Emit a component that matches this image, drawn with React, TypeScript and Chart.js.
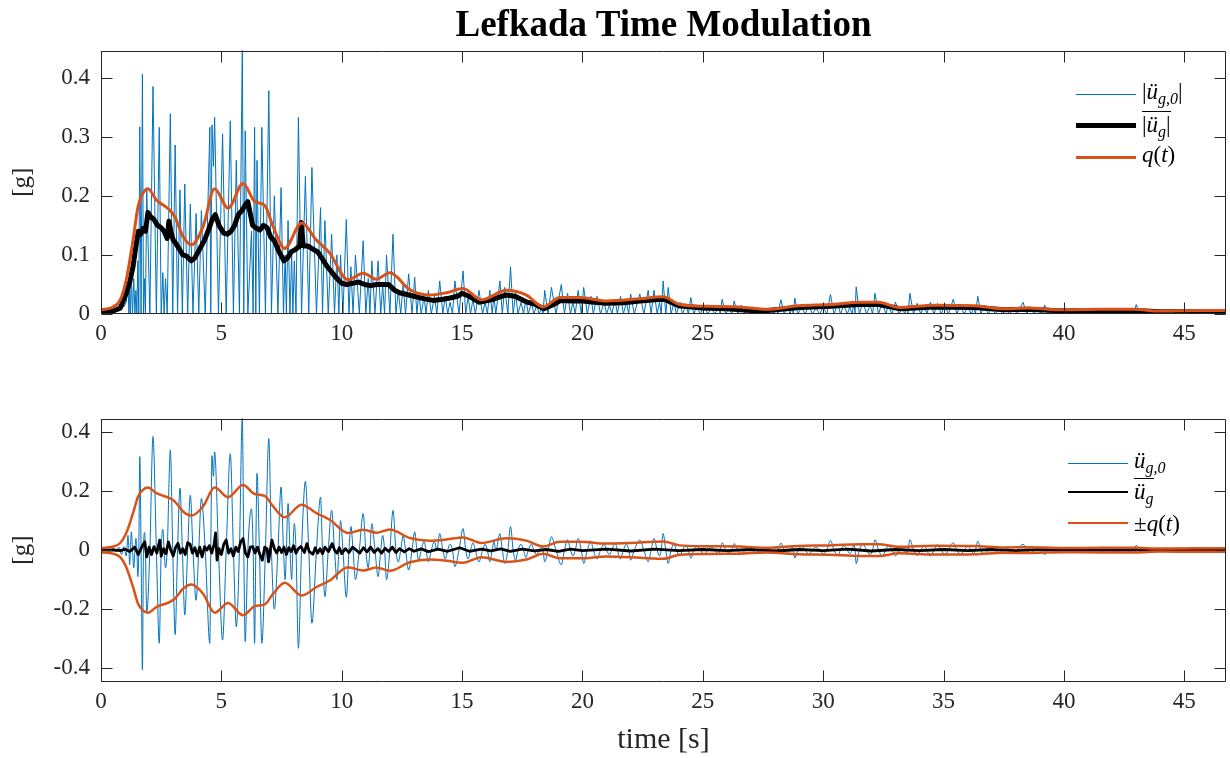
import { useEffect, useRef } from "react";
import { Chart, registerables } from "chart.js";

Chart.register(...registerables);

// ---------------- data ----------------
const X_MAX = 46.73;
const Y_LIM = 0.446;
const xTicks = [0, 5, 10, 15, 20, 25, 30, 35, 40, 45];
const yTicksTop = [0, 0.1, 0.2, 0.3, 0.4];
const yTicksBottom = [-0.4, -0.2, 0, 0.2, 0.4];

// recorded ground acceleration (signed), [time s, value g]
const recorded: [number, number][] = [
  [0, 0], [0.2, 0.003], [0.35, -0.004], [0.5, 0.006], [0.62, -0.006], [0.75, 0.01], [0.85, -0.015], [0.95, 0.012],
  [1.05, -0.02], [1.12, 0.05], [1.16, 0], [1.19, -0.05], [1.22, 0], [1.26, 0.062], [1.31, 0], [1.36, -0.06],
  [1.41, 0], [1.45, 0.04], [1.49, 0], [1.53, -0.09], [1.57, 0], [1.61, 0.317], [1.665, 0], [1.72, -0.406],
  [1.765, 0], [1.81, 0.06], [1.845, 0], [1.9, -0.21], [2.03, 0], [2.16, 0.385], [2.3, 0], [2.42, -0.316],
  [2.5, 0], [2.57, 0.07], [2.62, 0], [2.68, -0.06], [2.75, 0], [2.88, 0.339], [2.98, 0], [3.08, -0.286],
  [3.18, 0], [3.28, 0.21], [3.38, 0], [3.48, -0.22], [3.6, 0], [3.71, 0.186], [3.82, 0], [3.95, -0.17],
  [4.06, 0], [4.17, 0.175], [4.33, 0], [4.52, -0.316], [4.56, 0], [4.61, 0.32], [4.67, 0.25], [4.72, 0.333],
  [4.88, 0], [5.05, -0.305], [5.2, 0], [5.37, 0.327], [5.5, 0], [5.62, -0.26], [5.75, 0], [5.87, 0.45],
  [5.93, 0], [5.99, -0.31], [6.1, 0], [6.25, 0.14], [6.32, 0], [6.38, -0.316], [6.43, 0], [6.48, 0.26],
  [6.58, 0], [6.68, -0.316], [6.83, 0], [6.97, 0.378], [7.08, 0], [7.2, -0.2], [7.35, 0], [7.48, 0.214],
  [7.58, 0], [7.65, -0.1], [7.7, 0], [7.77, 0.158], [7.85, 0], [7.92, -0.1], [7.97, 0], [8.03, 0.09],
  [8.1, 0], [8.2, -0.333], [8.33, 0], [8.49, 0.233], [8.63, 0], [8.76, -0.248], [8.95, 0], [9.12, 0.18],
  [9.2, 0], [9.3, -0.158], [9.44, 0], [9.58, 0.135], [9.7, 0], [9.8, -0.1], [9.88, 0], [9.95, 0.1],
  [10.05, 0], [10.19, -0.16], [10.3, 0], [10.38, 0.08], [10.47, 0], [10.57, -0.1], [10.73, 0], [10.89, 0.124],
  [11.0, 0], [11.1, -0.06], [11.17, 0], [11.25, 0.09], [11.38, 0], [11.51, -0.09], [11.62, 0], [11.7, 0.05],
  [11.78, 0], [11.86, -0.1], [12.0, 0], [12.13, 0.135], [12.25, 0], [12.35, -0.04], [12.45, 0], [12.55, 0.05],
  [12.65, 0], [12.78, -0.068], [12.92, 0], [13.03, 0.062], [13.12, 0], [13.2, -0.035], [13.3, 0], [13.42, 0.03],
  [13.5, 0], [13.6, -0.04], [13.72, 0], [13.85, 0.03], [13.95, 0], [14.07, 0.056], [14.2, 0], [14.3, -0.03],
  [14.4, 0], [14.5, 0.02], [14.6, 0], [14.7, -0.056], [14.87, 0], [15.04, 0.073], [15.15, 0], [15.25, -0.03],
  [15.35, 0], [15.45, 0.025], [15.55, 0], [15.7, -0.04], [15.85, 0], [15.95, 0.02], [16.05, 0], [16.15, -0.04],
  [16.25, 0], [16.32, 0.03], [16.4, 0], [16.57, 0.056], [16.67, 0], [16.77, -0.045], [16.9, 0], [17.01, 0.08],
  [17.12, 0], [17.22, -0.035], [17.32, 0], [17.45, 0.02], [17.55, 0], [17.65, -0.025], [17.75, 0], [17.88, 0.02],
  [17.98, 0], [18.1, -0.015], [18.2, 0], [18.3, 0.01], [18.36, 0], [18.43, -0.04], [18.57, 0], [18.71, 0.045],
  [18.9, 0], [19.12, -0.05], [19.25, 0], [19.38, 0.035], [19.5, 0], [19.6, -0.02], [19.7, 0], [19.82, 0.04],
  [19.95, 0], [20.05, -0.045], [20.2, 0], [20.35, 0.03], [20.45, 0], [20.6, -0.03], [20.75, 0], [20.9, 0.02],
  [21.0, 0], [21.12, -0.015], [21.22, 0], [21.35, 0.025], [21.45, 0], [21.58, -0.03], [21.7, 0], [21.82, 0.02],
  [21.92, 0], [22.0, -0.034], [22.15, 0], [22.38, 0.034], [22.55, 0], [22.73, -0.04], [22.85, 0], [22.97, 0.04],
  [23.1, 0], [23.2, -0.02], [23.27, 0], [23.35, 0.056], [23.46, 0], [23.56, -0.045], [23.68, 0], [23.8, 0.02],
  [23.9, 0], [24.05, -0.02], [24.15, 0], [24.3, 0.015], [24.4, 0], [24.5, -0.028], [24.62, 0], [24.75, 0.012],
  [24.9, 0], [25.05, -0.015], [25.2, 0], [25.35, 0.01], [25.5, 0], [25.65, -0.012], [25.72, 0], [25.8, 0.025],
  [25.95, 0], [26.1, -0.01], [26.2, 0], [26.3, 0.022], [26.45, 0], [26.6, -0.015], [26.75, 0], [26.9, 0.012],
  [27.05, 0], [27.2, -0.01], [27.35, 0], [27.5, 0.008], [27.65, 0], [27.8, -0.01], [27.95, 0], [28.05, 0.012],
  [28.12, 0], [28.24, 0.024], [28.38, 0], [28.52, -0.012], [28.62, 0], [28.7, 0.01], [28.76, 0], [28.82, -0.027],
  [28.95, 0], [29.1, 0.012], [29.25, 0], [29.4, -0.015], [29.55, 0], [29.7, 0.01], [29.85, 0], [30.0, -0.012],
  [30.15, 0], [30.3, 0.033], [30.45, 0], [30.6, -0.018], [30.72, 0], [30.85, 0.015], [31.0, 0], [31.1, -0.012],
  [31.2, 0], [31.28, 0.02], [31.32, 0], [31.37, -0.046], [31.5, 0], [31.65, 0.02], [31.8, 0], [31.95, -0.015],
  [32.05, 0], [32.15, 0.035], [32.3, 0], [32.45, -0.02], [32.6, 0], [32.7, 0.015], [32.85, 0], [33.0, -0.02],
  [33.15, 0], [33.3, 0.012], [33.38, 0], [33.45, -0.01], [33.52, 0], [33.6, 0.035], [33.75, 0], [33.9, -0.018],
  [34.05, 0], [34.2, 0.015], [34.3, 0], [34.45, -0.02], [34.6, 0], [34.75, 0.018], [34.9, 0], [35.05, -0.015],
  [35.2, 0], [35.4, 0.025], [35.55, 0], [35.7, -0.015], [35.85, 0], [36.0, 0.012], [36.15, 0], [36.25, -0.012],
  [36.32, 0], [36.42, 0.03], [36.55, 0], [36.7, -0.015], [36.85, 0], [37.0, 0.01], [37.15, 0], [37.3, -0.012],
  [37.45, 0], [37.6, 0.008], [37.75, 0], [37.9, -0.01], [38.05, 0], [38.3, 0.02], [38.45, 0], [38.6, -0.012],
  [38.75, 0], [38.9, 0.01], [39.05, 0], [39.2, -0.015], [39.35, 0], [39.5, 0.008], [39.65, 0], [39.8, -0.008],
  [39.95, 0], [40.1, 0.01], [40.25, 0], [40.4, -0.008], [40.55, 0], [40.7, 0.007], [40.85, 0], [41.0, -0.009],
  [41.15, 0], [41.3, 0.008], [41.45, 0], [41.6, -0.007], [41.75, 0], [41.9, 0.009], [42.05, 0], [42.2, -0.008],
  [42.35, 0], [42.5, 0.006], [42.65, 0], [42.8, -0.009], [42.9, 0], [43.0, 0.016], [43.15, 0], [43.3, -0.008],
  [43.45, 0], [43.6, 0.006], [43.75, 0], [43.9, -0.006], [44.05, 0], [44.2, 0.005], [44.35, 0], [44.5, -0.007],
  [44.65, 0], [44.8, 0.008], [44.95, 0], [45.1, -0.006], [45.25, 0], [45.4, 0.007], [45.55, 0], [45.7, -0.008],
  [45.85, 0], [46.0, 0.006], [46.15, 0], [46.3, -0.007], [46.45, 0], [46.6, 0.006], [46.73, 0],
];

// mean of |simulated acceleration| (top panel black)
const meanAbs: [number, number][] = [
  [0, 0.003], [0.5, 0.005], [0.8, 0.01], [1.05, 0.035], [1.2, 0.055], [1.33, 0.08], [1.45, 0.115], [1.55, 0.14],
  [1.65, 0.135], [1.75, 0.145], [1.85, 0.14], [1.95, 0.172], [2.05, 0.165], [2.2, 0.16], [2.35, 0.15], [2.5, 0.146],
  [2.62, 0.14], [2.75, 0.128], [2.82, 0.157], [2.9, 0.14], [3.0, 0.125], [3.1, 0.12], [3.25, 0.11], [3.4, 0.1],
  [3.55, 0.098], [3.75, 0.09], [3.9, 0.095], [4.1, 0.11], [4.3, 0.125], [4.5, 0.146], [4.62, 0.16], [4.75, 0.168],
  [4.9, 0.15], [5.1, 0.137], [5.25, 0.135], [5.4, 0.14], [5.55, 0.15], [5.7, 0.168], [5.85, 0.175], [6.0, 0.185],
  [6.1, 0.19], [6.3, 0.15], [6.45, 0.145], [6.6, 0.142], [6.75, 0.15], [6.9, 0.146], [7.05, 0.13], [7.2, 0.124],
  [7.4, 0.105], [7.6, 0.09], [7.75, 0.095], [7.9, 0.105], [8.1, 0.11], [8.25, 0.115], [8.32, 0.155], [8.4, 0.115],
  [8.6, 0.115], [8.8, 0.11], [9.0, 0.105], [9.2, 0.093], [9.4, 0.08], [9.6, 0.07], [9.8, 0.06], [10.0, 0.052],
  [10.2, 0.05], [10.45, 0.052], [10.7, 0.054], [10.95, 0.05], [11.2, 0.048], [11.45, 0.05], [11.7, 0.05], [11.95, 0.05],
  [12.2, 0.04], [12.4, 0.036], [12.7, 0.033], [13.0, 0.03], [13.4, 0.026], [13.8, 0.023], [14.2, 0.025], [14.5, 0.027],
  [14.8, 0.03], [15.0, 0.035], [15.3, 0.03], [15.7, 0.02], [16.2, 0.024], [16.8, 0.032], [17.2, 0.03], [17.7, 0.02],
  [18.0, 0.017], [18.4, 0.009], [18.8, 0.016], [19.1, 0.023], [19.6, 0.022], [20.0, 0.022], [20.5, 0.02], [21.0, 0.018],
  [21.7, 0.019], [22.4, 0.022], [23.0, 0.024], [23.4, 0.025], [24.0, 0.014], [25.0, 0.01], [26.0, 0.009], [27.0, 0.006],
  [27.7, 0.006], [29.0, 0.011], [30.3, 0.013], [31.5, 0.016], [32.3, 0.016], [33.2, 0.009], [34.6, 0.012], [36.3, 0.011],
  [37.5, 0.007], [38.5, 0.008], [40.0, 0.005], [41.5, 0.006], [43.0, 0.006], [44.0, 0.004], [45.5, 0.004], [46.73, 0.004],
];

// mean of simulated acceleration (bottom panel black)
const meanSigned: [number, number][] = [
  [0, 0], [0.5, 0.001], [0.8, -0.002], [1.0, 0.003], [1.2, -0.005], [1.4, 0.01], [1.55, -0.015], [1.7, 0.012],
  [1.82, 0.028], [1.9, -0.023], [2.0, 0.01], [2.1, -0.015], [2.2, 0.012], [2.32, -0.01], [2.44, 0.034], [2.5, -0.02],
  [2.6, 0.005], [2.7, -0.012], [2.8, 0.028], [2.9, 0.0], [3.0, -0.02], [3.1, 0.01], [3.2, 0.023], [3.3, -0.01],
  [3.4, 0.005], [3.5, -0.015], [3.6, 0.025], [3.7, 0.02], [3.8, -0.01], [3.9, 0.008], [4.0, -0.02], [4.1, 0.01],
  [4.2, -0.023], [4.3, 0.012], [4.4, 0.0], [4.5, 0.015], [4.6, -0.01], [4.7, 0.02], [4.76, 0.058], [4.82, -0.034],
  [4.9, 0.005], [5.0, -0.015], [5.1, 0.02], [5.2, 0.034], [5.3, -0.01], [5.4, 0.005], [5.5, -0.02], [5.6, 0.01],
  [5.7, -0.005], [5.8, 0.028], [5.9, 0.039], [6.0, -0.01], [6.1, -0.023], [6.2, 0.01], [6.3, 0.012], [6.4, -0.01],
  [6.5, 0.01], [6.6, -0.015], [6.7, -0.034], [6.8, 0.01], [6.9, 0.005], [6.96, -0.04], [7.05, 0.01], [7.1, 0.034],
  [7.2, 0.005], [7.3, -0.01], [7.4, 0.01], [7.5, -0.008], [7.6, 0.01], [7.7, -0.015], [7.8, 0.008], [7.9, -0.005],
  [8.0, 0.015], [8.1, -0.01], [8.2, 0.005], [8.3, 0.012], [8.45, -0.008], [8.55, 0.022], [8.65, -0.005], [8.8, -0.014],
  [8.9, 0.008], [9.0, -0.01], [9.1, 0.005], [9.2, -0.012], [9.3, 0.01], [9.45, -0.005], [9.6, 0.022], [9.7, 0.0],
  [9.8, -0.01], [9.9, 0.008], [10.0, -0.012], [10.15, 0.005], [10.3, -0.008], [10.45, 0.01], [10.6, 0.0], [10.75, -0.01],
  [10.9, 0.008], [11.05, -0.006], [11.2, 0.01], [11.35, -0.008], [11.5, 0.005], [11.65, -0.01], [11.8, 0.006], [11.95, -0.005],
  [12.1, 0.01], [12.25, -0.008], [12.4, 0.005], [12.6, -0.006], [12.8, 0.005], [13.0, -0.004], [13.3, 0.004], [13.6, -0.005],
  [14.0, 0.003], [14.4, -0.004], [14.9, 0.008], [15.3, -0.004], [15.8, 0.003], [16.2, -0.003], [16.6, 0.004], [17.0, -0.004],
  [17.5, 0.003], [18.0, -0.003], [18.5, 0.002], [19.0, -0.004], [19.5, 0.003], [20.0, -0.002], [21.0, 0.003], [22.0, -0.003],
  [23.0, 0.003], [24.0, -0.002], [25.0, 0.002], [26.0, -0.002], [27.0, 0.002], [28.0, -0.003], [29.0, 0.002], [30.0, -0.002],
  [31.0, 0.003], [32.0, -0.003], [33.0, 0.002], [34.0, -0.002], [35.0, 0.002], [36.0, -0.002], [37.0, 0.002], [38.0, -0.002],
  [39.0, 0.002], [40.0, -0.001], [42.0, 0.001], [44.0, -0.001], [46.73, 0],
];

// time modulation function q(t)
const modulation: [number, number][] = [
  [0, 0.007], [0.5, 0.012], [0.8, 0.024], [1.05, 0.058], [1.33, 0.125], [1.54, 0.182], [1.75, 0.205], [1.95, 0.212],
  [2.3, 0.193], [2.85, 0.176], [3.06, 0.165], [3.41, 0.131], [3.75, 0.117], [4.24, 0.148], [4.72, 0.212], [5.28, 0.179],
  [5.9, 0.221], [6.39, 0.19], [6.8, 0.184], [7.15, 0.148], [7.63, 0.111], [8.33, 0.154], [8.95, 0.125], [9.5, 0.103],
  [10.26, 0.058], [10.89, 0.069], [11.44, 0.059], [12.0, 0.07], [12.83, 0.041], [13.65, 0.032], [14.35, 0.036], [15.04, 0.043],
  [15.8, 0.024], [16.84, 0.04], [17.67, 0.032], [18.37, 0.012], [19.06, 0.028], [19.9, 0.028], [21.0, 0.022], [22.4, 0.026],
  [23.35, 0.029], [24.04, 0.016], [25.2, 0.013], [26.5, 0.012], [27.66, 0.008], [28.97, 0.014], [30.27, 0.016], [31.56, 0.02],
  [32.3, 0.02], [33.16, 0.011], [34.6, 0.015], [36.3, 0.014], [37.5, 0.009], [38.5, 0.01], [39.96, 0.007], [41.5, 0.008],
  [42.9, 0.008], [44.0, 0.005], [45.5, 0.006], [46.73, 0.006],
];

// ---------------- styling ----------------
const BLUE = "#0072BD";
const ORANGE = "#D95319";
const AXIS = "#262626";
const FONT = '"Liberation Serif", "Times New Roman", serif';

Chart.defaults.font.family = FONT;

const fmt = (v: number) => {
  if (Math.abs(v) < 1e-9) return "0";
  return String(Number(v.toFixed(1)));
};

const boxPlugin = {
  id: "matlabBox",
  afterDatasetsDraw(chart: any) {
    const { ctx, chartArea: a, scales } = chart;
    const L = Math.round(a.left) + 0.5;
    const R = Math.round(a.right) - 0.5;
    const T = Math.round(a.top) + 0.5;
    const B = Math.round(a.bottom) - 0.5;
    const len = 11;
    ctx.save();
    ctx.strokeStyle = AXIS;
    ctx.lineWidth = 1;
    ctx.beginPath();
    ctx.rect(L, T, R - L, B - T);
    for (const t of scales.x.ticks) {
      const px = Math.round(scales.x.getPixelForValue(t.value)) + 0.5;
      ctx.moveTo(px, B);
      ctx.lineTo(px, B - len);
      ctx.moveTo(px, T);
      ctx.lineTo(px, T + len);
    }
    for (const t of scales.y.ticks) {
      const py = Math.round(scales.y.getPixelForValue(t.value)) + 0.5;
      ctx.moveTo(L, py);
      ctx.lineTo(L + len, py);
      ctx.moveTo(R, py);
      ctx.lineTo(R - len, py);
    }
    ctx.stroke();
    ctx.restore();
  },
};

function toXY(arr: [number, number][], f: (v: number) => number = (v) => v) {
  return arr.map(([t, v]) => ({ x: t, y: f(v) }));
}

function makeConfig(
  datasets: any[],
  yTicks: number[],
  yMin: number,
  yMax: number,
  padTop: number,
  xHeight: number,
  xTitle: string | null
): any {
  return {
    type: "line",
    data: { datasets },
    plugins: [boxPlugin],
    options: {
      responsive: false,
      animation: false,
      events: [],
      layout: { padding: { left: 0, right: 4, top: padTop, bottom: 0 } },
      plugins: { legend: { display: false }, tooltip: { enabled: false }, title: { display: false } },
      elements: { point: { radius: 0 } },
      scales: {
        x: {
          type: "linear",
          min: 0,
          max: X_MAX,
          afterBuildTicks: (s: any) => {
            s.ticks = xTicks.map((v) => ({ value: v }));
          },
          afterFit: (s: any) => {
            s.height = xHeight;
          },
          grid: { display: false, drawTicks: false },
          border: { display: false },
          ticks: {
            padding: 6,
            color: AXIS,
            font: { family: FONT, size: 23 },
            maxRotation: 0,
            autoSkip: false,
            callback: (v: number) => String(v),
          },
          title: xTitle
            ? {
                display: true,
                text: xTitle,
                color: AXIS,
                font: { family: FONT, size: 30 },
                padding: { top: 0, bottom: 0 },
              }
            : { display: false },
        },
        y: {
          type: "linear",
          min: yMin,
          max: yMax,
          afterBuildTicks: (s: any) => {
            s.ticks = yTicks.map((v) => ({ value: v }));
          },
          afterFit: (s: any) => {
            s.width = 101;
          },
          grid: { display: false, drawTicks: false },
          border: { display: false },
          ticks: {
            padding: 11,
            color: AXIS,
            font: { family: FONT, size: 23 },
            autoSkip: false,
            callback: (v: number) => fmt(v),
          },
          title: {
            display: true,
            text: "[g]",
            color: AXIS,
            font: { family: FONT, size: 25 },
            padding: { top: 7, bottom: 0 },
          },
        },
      },
    },
  };
}

const lineBase = { pointRadius: 0, fill: false, borderCapStyle: "butt", borderJoinStyle: "round" };

export default function App() {
  const topRef = useRef<HTMLCanvasElement>(null);
  const botRef = useRef<HTMLCanvasElement>(null);

  useEffect(() => {
    const topSets = [
      {
        ...lineBase,
        label: "|ü_g,0|",
        data: toXY(recorded, Math.abs),
        borderColor: BLUE,
        borderWidth: 1,
        order: 3,
      },
      { ...lineBase, label: "mean |ü_g|", data: toXY(meanAbs), borderColor: "#000", borderWidth: 5, order: 2 },
      {
        ...lineBase,
        label: "q(t)",
        data: toXY(modulation),
        borderColor: ORANGE,
        borderWidth: 3,
        cubicInterpolationMode: "monotone",
        order: 1,
      },
    ];
    const botSets = [
      {
        ...lineBase,
        label: "ü_g,0",
        data: toXY(recorded),
        borderColor: BLUE,
        borderWidth: 1,
        cubicInterpolationMode: "monotone",
        order: 4,
      },
      { ...lineBase, label: "mean ü_g", data: toXY(meanSigned), borderColor: "#000", borderWidth: 2.8, order: 3 },
      {
        ...lineBase,
        label: "+q(t)",
        data: toXY(modulation),
        borderColor: ORANGE,
        borderWidth: 2.5,
        cubicInterpolationMode: "monotone",
        order: 2,
      },
      {
        ...lineBase,
        label: "-q(t)",
        data: toXY(modulation, (v) => -v),
        borderColor: ORANGE,
        borderWidth: 2.5,
        cubicInterpolationMode: "monotone",
        order: 1,
      },
    ];
    const c1 = new Chart(topRef.current!, makeConfig(topSets, yTicksTop, 0, Y_LIM, 50.5, 66, null));
    const c2 = new Chart(botRef.current!, makeConfig(botSets, yTicksBottom, -Y_LIM, Y_LIM, 38.5, 76.3, "time [s]"));
    return () => {
      c1.destroy();
      c2.destroy();
    };
  }, []);

  const legendText: any = {
    position: "absolute",
    fontFamily: FONT,
    fontStyle: "italic",
    fontSize: 23,
    lineHeight: "26px",
    color: "#000",
    whiteSpace: "nowrap",
  };
  const sub: any = { fontSize: 16, position: "relative", top: 5 };
  const lineSample = (left: number, cy: number, w: number, color: string) => (
    <div
      style={{
        position: "absolute",
        left,
        top: cy - w / 2,
        width: 60,
        height: w,
        background: color,
      }}
    />
  );

  return (
    <div
      style={{
        position: "absolute",
        left: 0,
        top: 0,
        width: 1230,
        height: 758,
        background: "#fff",
        overflow: "hidden",
      }}
    >
      <canvas ref={topRef} width={1230} height={380} style={{ position: "absolute", left: 0, top: 0 }} />
      <canvas ref={botRef} width={1230} height={378} style={{ position: "absolute", left: 0, top: 380 }} />
      <div
        style={{
          position: "absolute",
          left: 101,
          width: 1125,
          top: 5,
          textAlign: "center",
          fontFamily: FONT,
          fontWeight: "bold",
          fontSize: 37,
          lineHeight: "37px",
          color: "#000",
        }}
      >
        Lefkada Time Modulation
      </div>

      {/* top legend */}
      {lineSample(1076, 94, 1, BLUE)}
      {lineSample(1076, 125, 5, "#000")}
      {lineSample(1076, 157, 3, ORANGE)}
      <div style={{ ...legendText, left: 1142, top: 79 }}>
        <span style={{ fontStyle: "normal" }}>|</span>ü<span style={sub}>g,0</span>
        <span style={{ fontStyle: "normal" }}>|</span>
      </div>
      <div style={{ ...legendText, left: 1142, top: 112 }}>
        <span style={{ borderTop: "1.5px solid #000" }}>
          <span style={{ fontStyle: "normal" }}>|</span>ü<span style={sub}>g</span>
          <span style={{ fontStyle: "normal" }}>|</span>
        </span>
      </div>
      <div style={{ ...legendText, left: 1142, top: 142 }}>
        q<span style={{ fontStyle: "normal" }}>(</span>t<span style={{ fontStyle: "normal" }}>)</span>
      </div>

      {/* bottom legend */}
      {lineSample(1068, 463, 1, BLUE)}
      {lineSample(1068, 492, 2.8, "#000")}
      {lineSample(1068, 523, 2.5, ORANGE)}
      <div style={{ ...legendText, left: 1134, top: 448 }}>
        ü<span style={sub}>g,0</span>
      </div>
      <div style={{ ...legendText, left: 1134, top: 479 }}>
        <span style={{ borderTop: "1.5px solid #000" }}>
          ü<span style={sub}>g</span>
        </span>
      </div>
      <div style={{ ...legendText, left: 1134, top: 511 }}>
        <span style={{ fontStyle: "normal" }}>±</span>q<span style={{ fontStyle: "normal" }}>(</span>t
        <span style={{ fontStyle: "normal" }}>)</span>
      </div>
    </div>
  );
}
